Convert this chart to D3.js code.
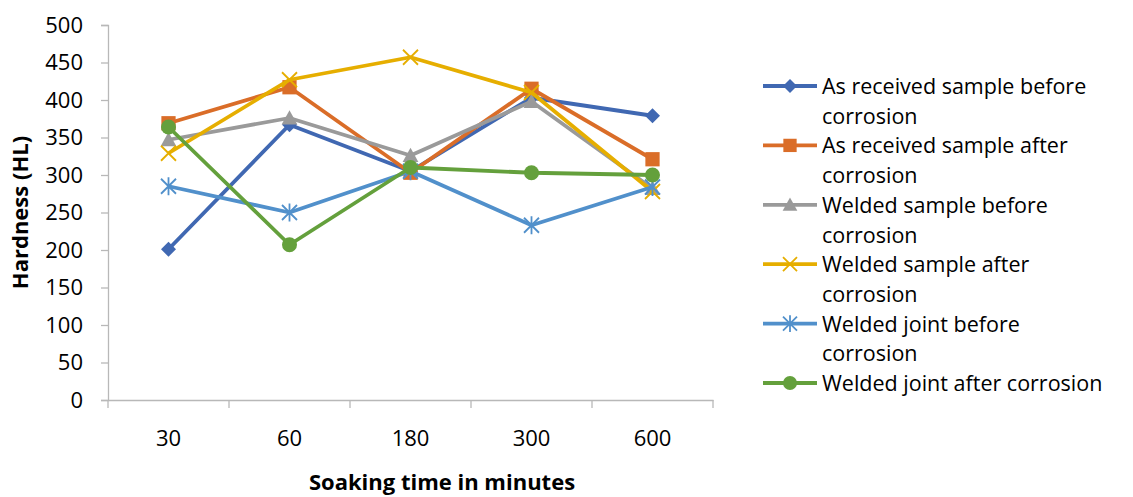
<!DOCTYPE html>
<html><head><meta charset="utf-8">
<script src="https://cdn.jsdelivr.net/npm/d3@7"></script>
<style>body{margin:0;background:#fff}svg{display:block}text{font-family:"Open Sans",sans-serif;fill:#000}</style>
</head><body><svg id="c" width="1133" height="497"></svg>
<script>
const categories = ["30","60","180","300","600"];
const yTicks = [0,50,100,150,200,250,300,350,400,450,500];
const seriesNames = ["As received sample before corrosion","As received sample after corrosion","Welded sample before corrosion","Welded sample after corrosion","Welded joint before corrosion","Welded joint after corrosion"];
const legendLines = [["As received sample before","corrosion"],["As received sample after","corrosion"],["Welded sample before","corrosion"],["Welded sample after","corrosion"],["Welded joint before","corrosion"],["Welded joint after corrosion"]];
const asReceivedBefore = [201,367,305,403,379];
const asReceivedAfter  = [369,417,303,415,321];
const weldedSampleBefore = [347,376,326,398,282];
const weldedSampleAfter  = [329,427,457,410,278];
const weldedJointBefore  = [285,250,305,233,284];
const weldedJointAfter   = [364,207,310,303,300];
const seriesValues = [asReceivedBefore,asReceivedAfter,weldedSampleBefore,weldedSampleAfter,weldedJointBefore,weldedJointAfter];
const colors = ["#4068b2","#da6d28","#9a9a9a","#e6ae00","#5190cb","#64a03c"];
const markers = ["diamond","square","triangle","x","star","circle"];

const svg = d3.select("#c");
const L=108, R=713, T=25, B=400;
const x = d3.scaleBand().domain(categories).range([L,R]);
const y = d3.scaleLinear().domain([0,500]).range([B,T]);
const axisCol="#b8b8b8";

// y axis
const ya = svg.append("g").attr("transform",`translate(${L},0)`).call(d3.axisLeft(y).tickValues(yTicks).tickSize(7).tickPadding(18));
ya.select(".domain").attr("stroke",axisCol).attr("stroke-width",1.3);
ya.selectAll(".tick line").attr("stroke",axisCol).attr("stroke-width",1.3);
ya.selectAll(".tick text").style("font-size","22px").style("font-family","Open Sans");

// x axis
const xa = svg.append("g").attr("transform",`translate(0,${B})`).call(d3.axisBottom(x).tickSize(0).tickPadding(30));
xa.select(".domain").attr("stroke",axisCol).attr("stroke-width",1.3);
xa.selectAll(".tick text").style("font-size","22px").style("font-family","Open Sans");
const bounds = categories.map(c=>x(c)).concat([R]);
svg.append("g").selectAll("line").data(bounds).join("line")
  .attr("x1",d=>d).attr("x2",d=>d).attr("y1",B).attr("y2",B+8)
  .attr("stroke",axisCol).attr("stroke-width",1.3);

// titles
svg.append("text").attr("transform",`translate(28,${(T+B)/2}) rotate(-90)`).attr("text-anchor","middle")
  .style("font-size","22px").style("font-weight","bold").text("Hardness (HL)");
svg.append("text").attr("x",442).attr("y",490).attr("text-anchor","middle")
  .style("font-size","22px").style("font-weight","bold").text("Soaking time in minutes");

function drawMarker(g, type, color, s){
  if(type==="diamond") g.append("path").attr("d",`M0,${-s}L${s},0L0,${s}L${-s},0Z`).attr("fill",color);
  else if(type==="square") g.append("rect").attr("x",-s*0.95).attr("y",-s*0.95).attr("width",s*1.9).attr("height",s*1.9).attr("fill",color);
  else if(type==="triangle") g.append("path").attr("d",`M0,${-s*1.05}L${s*1.05},${s*0.85}L${-s*1.05},${s*0.85}Z`).attr("fill",color);
  else if(type==="circle") g.append("circle").attr("r",s).attr("fill",color);
  else if(type==="x") g.append("path").attr("d",`M${-s},${-s}L${s},${s}M${-s},${s}L${s},${-s}`).attr("stroke",color).attr("stroke-width",1.8).attr("fill","none");
  else if(type==="star") g.append("path").attr("d",`M${-s},${-s}L${s},${s}M${-s},${s}L${s},${-s}M0,${-s*1.2}L0,${s*1.2}`).attr("stroke",color).attr("stroke-width",1.8).attr("fill","none");
}
const msize=[7.5,7.5,7.5,7.5,7.5,7.5];

const line = d3.line().x((d,i)=>x(categories[i])+x.bandwidth()/2).y(d=>y(d));
seriesValues.forEach((vals,si)=>{
  const g = svg.append("g");
  g.append("path").datum(vals).attr("d",line).attr("fill","none").attr("stroke",colors[si]).attr("stroke-width",3.8).attr("stroke-linejoin","round");
  vals.forEach((v,i)=>{
    const mg = g.append("g").attr("transform",`translate(${x(categories[i])+x.bandwidth()/2},${y(v)})`);
    drawMarker(mg, markers[si], colors[si], msize[si]);
  });
});

// legend
const lg = svg.append("g");
legendLines.forEach((lines,si)=>{
  const cy = 86 + si*59.4;
  const g = lg.append("g");
  g.append("line").attr("x1",763).attr("x2",817).attr("y1",cy).attr("y2",cy).attr("stroke",colors[si]).attr("stroke-width",3.8);
  const mg = g.append("g").attr("transform",`translate(790,${cy})`);
  drawMarker(mg, markers[si], colors[si], 7);
  lines.forEach((t,li)=>{
    g.append("text").attr("x",822).attr("y",cy+8+li*29.8).style("font-size","21.5px").text(t);
  });
});
</script></body></html>
